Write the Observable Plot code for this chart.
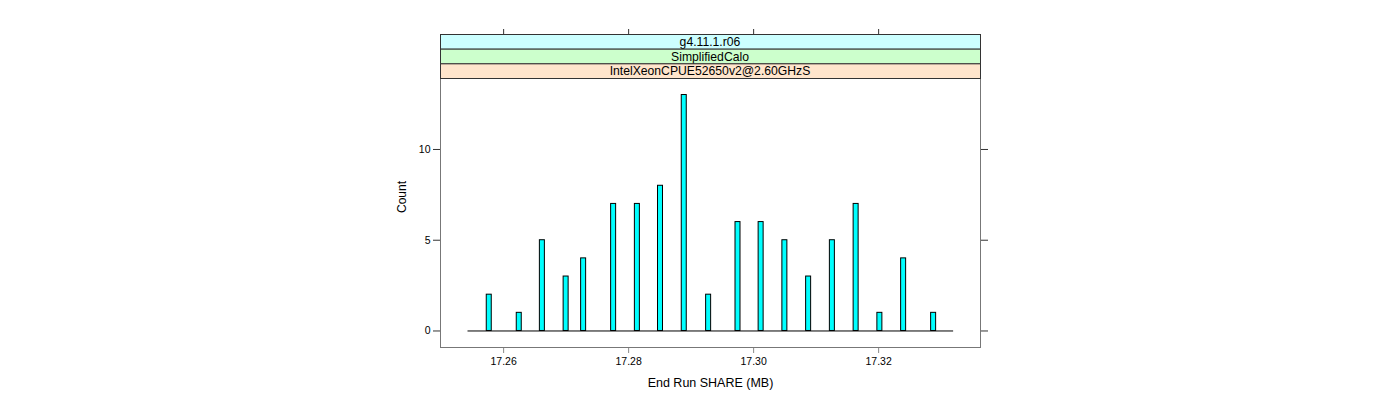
<!DOCTYPE html>
<html>
<head>
<meta charset="utf-8">
<script src="https://cdn.jsdelivr.net/npm/d3@7"></script>
<script src="https://cdn.jsdelivr.net/npm/@observablehq/plot@0.6"></script>
<style>
  html, body { margin: 0; padding: 0; background: #fff; }
  #chart svg { display: block; }
</style>
</head>
<body>
<div id="chart"></div>
<script>
// Data
const shareMB = [17.2577, 17.2625, 17.2662, 17.2700, 17.2728, 17.2776, 17.2814, 17.2851, 17.2889, 17.2928,
                 17.2975, 17.3012, 17.3050, 17.3088, 17.3126, 17.3164, 17.3202, 17.3240, 17.3288];
const counts = [2, 1, 5, 3, 4, 7, 7, 8, 13, 2, 6, 6, 5, 3, 5, 7, 1, 4, 1];
const xTicks = [17.26, 17.28, 17.30, 17.32];
const yTicks = [0, 5, 10];
const stripLabels = ["g4.11.1.r06", "SimplifiedCalo", "IntelXeonCPUE52650v2@2.60GHzS"];
const stripColors = ["#CCFFFF", "#CCFFCC", "#FFE5CC"];
const baselineExtent = [17.2543, 17.3320];

const data = shareMB.map((x, i) => ({x, count: counts[i]}));
const halfW = 0.0004;

const W = 1400, H = 400;
const mL = 440, mR = 420, mT = 78, mB = 53;
const stripTop = 34;
const font = "'Liberation Sans', Arial, Helvetica, sans-serif";

const plot = Plot.plot({
  width: W,
  height: H,
  marginLeft: mL,
  marginRight: mR,
  marginTop: mT,
  marginBottom: mB,
  style: {fontFamily: font, fontSize: "10.5px", color: "#000", background: "#fff"},
  x: {domain: [17.2499, 17.3363]},
  y: {domain: [-0.91, 13.91]},
  marks: [
    Plot.ruleY([0], {x1: baselineExtent[0], x2: baselineExtent[1], stroke: "#000", strokeWidth: 1}),
    Plot.rect(data, {x1: d => d.x - halfW, x2: d => d.x + halfW, y1: 0, y2: "count",
                     fill: "#00FFFF", stroke: "#000", strokeWidth: 1}),
    Plot.axisY({anchor: "left", ticks: yTicks, tickSize: 7, tickPadding: 3, label: null, stroke: "#333"}),
    Plot.axisY({anchor: "right", ticks: yTicks, tickSize: 7, tickFormat: () => "", label: null, stroke: "#333"}),
    Plot.axisX({anchor: "bottom", ticks: xTicks, tickSize: 6, tickPadding: 4, tickFormat: d3.format(".2f"), label: null, stroke: "#888"}),
    Plot.axisX({anchor: "top", ticks: xTicks, tickSize: 6, tickFormat: () => "", label: null, dy: -(mT - stripTop), stroke: "#333"}),
    Plot.text(["Count"], {frameAnchor: "left", dx: -38, rotate: -90, fontSize: 12}),
    Plot.text(["End Run SHARE (MB)"], {frameAnchor: "bottom", dx: 0, dy: 39, fontSize: 12.5}),
    Plot.frame({stroke: "#777", strokeWidth: 1})
  ]
});

// Lattice-style strips above the panel
const svg = d3.select(plot);
const xr = plot.scale("x").range;
const stripH = (mT - stripTop) / stripLabels.length;
const g = svg.append("g");
stripLabels.forEach((lab, i) => {
  const y0 = stripTop + i * stripH;
  g.append("rect")
    .attr("x", xr[0] + 0.5).attr("y", y0 + 0.5)
    .attr("width", xr[1] - xr[0]).attr("height", stripH)
    .attr("fill", stripColors[i]).attr("stroke", "#333");
  g.append("text")
    .attr("x", (xr[0] + xr[1]) / 2).attr("y", y0 + stripH / 2 + 0.5)
    .attr("text-anchor", "middle").attr("dominant-baseline", "central")
    .attr("font-family", font).attr("font-size", "12.2px").attr("fill", "#000")
    .text(lab);
});

document.getElementById("chart").appendChild(plot);
</script>
</body>
</html>
